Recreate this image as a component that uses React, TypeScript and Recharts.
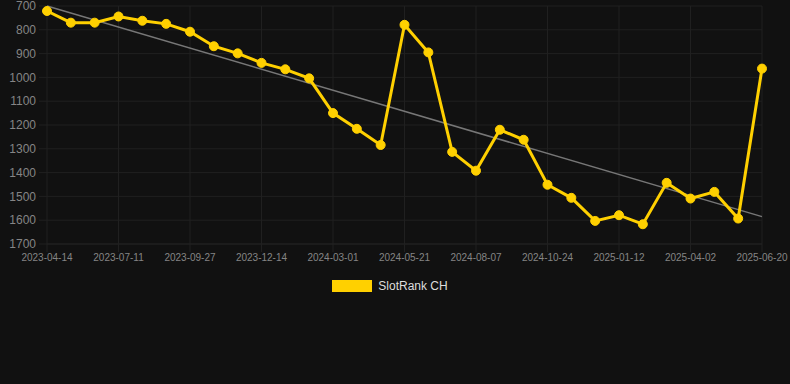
import { LineChart, Line, XAxis, YAxis, CartesianGrid, Legend, ReferenceLine } from 'recharts'

const dates = [
  '2023-04-14', '2023-05-13', '2023-06-11', '2023-07-11', '2023-08-06', '2023-09-01',
  '2023-09-27', '2023-10-23', '2023-11-18', '2023-12-14', '2024-01-09', '2024-02-04',
  '2024-03-01', '2024-03-28', '2024-04-24', '2024-05-21', '2024-06-16', '2024-07-12',
  '2024-08-07', '2024-09-02', '2024-09-28', '2024-10-24', '2024-11-19', '2024-12-16',
  '2025-01-12', '2025-02-07', '2025-03-07', '2025-04-02', '2025-04-28', '2025-05-24',
  '2025-06-20',
]

const ranks = [
  721, 770, 770, 744, 762, 775, 808, 869, 899, 939, 966,
  1004, 1150, 1216, 1284, 779, 895, 1313, 1392, 1220, 1262,
  1451, 1506, 1603, 1579, 1617, 1443, 1509, 1481, 1593, 963,
]

const yTicks = [700, 800, 900, 1000, 1100, 1200, 1300, 1400, 1500, 1600, 1700]

// trend line end points
const trendStart = 700
const trendEnd = 1585

const GOLD = '#ffd000'
const GRID = '#202020'
const FONT = '"Liberation Sans", Arial, Helvetica, sans-serif'

const data = dates.map((date, i) => ({ date, rank: ranks[i] }))

function LegendContent() {
  return (
    <div style={{ display: 'flex', justifyContent: 'center', alignItems: 'center', paddingTop: 15, paddingLeft: 18, fontFamily: FONT }}>
      <span style={{ display: 'inline-block', width: 40, height: 12, background: GOLD, marginRight: 6 }} />
      <span style={{ fontSize: 12, color: '#dddddd' }}>SlotRank CH</span>
    </div>
  )
}

export default function App() {
  return (
    <div style={{ position: 'fixed', top: 0, left: 0, width: 790, height: 384, background: '#111111' }}>
      <LineChart width={790} height={293} data={data} margin={{ top: 6, right: 28, left: 0, bottom: 0 }} style={{ overflow: 'visible' }}>
        <CartesianGrid stroke={GRID} />
        <XAxis
          dataKey="date"
          interval={2}
          height={20}
          tickSize={8}
          tickMargin={2}
          stroke={GRID}
          tick={{ fontSize: 10, fill: '#858585', fontFamily: FONT }}
        />
        <YAxis
          reversed
          domain={[700, 1700]}
          ticks={yTicks}
          interval={0}
          width={47}
          tickSize={8}
          tickMargin={3}
          stroke={GRID}
          axisLine={false}
          tick={{ fontSize: 12, fill: '#858585', fontFamily: FONT }}
        />
        <ReferenceLine
          segment={[{ x: dates[0], y: trendStart }, { x: dates[dates.length - 1], y: trendEnd }]}
          stroke="#777777"
          strokeWidth={1.5}
          ifOverflow="visible"
        />
        <Line
          type="linear"
          dataKey="rank"
          name="SlotRank CH"
          stroke={GOLD}
          strokeWidth={3}
          dot={{ r: 4.5, fill: GOLD, stroke: GOLD, strokeWidth: 1 }}
          activeDot={false}
          isAnimationActive={false}
        />
        <Legend verticalAlign="bottom" content={<LegendContent />} />
      </LineChart>
    </div>
  )
}
